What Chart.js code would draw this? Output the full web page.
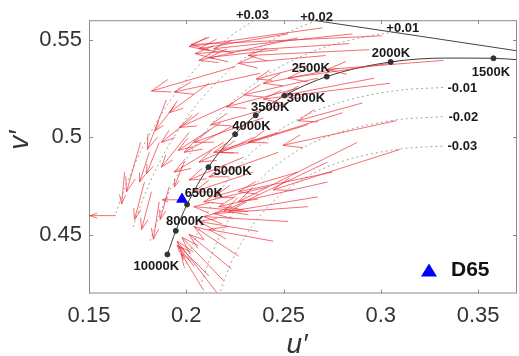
<!DOCTYPE html>
<html>
<head>
<meta charset="utf-8">
<script src="https://cdn.jsdelivr.net/npm/chart.js@4.4.1/dist/chart.umd.min.js"></script>
<style>
  html, body { margin: 0; padding: 0; background: #fff; overflow: hidden; }
  body { width: 519px; height: 356px; }
  canvas { display: block; }
</style>
</head>
<body>
<canvas id="chart" width="524" height="356"></canvas>
<script>
// axis ticks
const xTicks = [0.15, 0.2, 0.25, 0.3, 0.35];
const yTicks = [0.45, 0.5, 0.55];

// Planckian locus (u', v'), 10000K -> 1400K
const locusU = [0.1903, 0.1946, 0.2004, 0.2114, 0.2251, 0.2357, 0.2505, 0.2722, 0.3051, 0.3336, 0.3579, 0.3723];
const locusV = [0.4400, 0.4521, 0.4656, 0.4847, 0.5016, 0.5113, 0.5214, 0.5311, 0.5386, 0.5406, 0.5405, 0.5396];

// labelled CCT points
const cctNames = ["10000K", "8000K", "6500K", "5000K", "4000K", "3500K", "3000K", "2500K", "2000K", "1500K"];
const cctU = [0.1903, 0.1946, 0.2004, 0.2114, 0.2251, 0.2357, 0.2505, 0.2722, 0.3051, 0.3579];
const cctV = [0.4400, 0.4521, 0.4656, 0.4847, 0.5016, 0.5113, 0.5214, 0.5311, 0.5386, 0.5405];
const cctLabelU = [0.1846, 0.1994, 0.2090, 0.2238, 0.2335, 0.2431, 0.2615, 0.2640, 0.3052, 0.3566];
const cctLabelV = [0.4341, 0.4569, 0.4711, 0.4827, 0.5055, 0.5151, 0.5201, 0.5353, 0.5429, 0.5333];

// spectrum locus 575-600 nm
const specU = [0.2312, 0.2623, 0.2960, 0.3315, 0.4035];
const specV = [0.5651, 0.5604, 0.5554, 0.5501, 0.5393];

// Duv lines
const duvP3U = [0.1638, 0.1688, 0.1767, 0.1905, 0.2074, 0.2219, 0.2349];
const duvP3V = [0.4611, 0.4750, 0.4931, 0.5170, 0.5379, 0.5512, 0.5600];
const duvP2U = [0.1726, 0.1774, 0.1846, 0.1975, 0.2133, 0.2265, 0.2437, 0.2664];
const duvP2V = [0.4541, 0.4674, 0.4840, 0.5062, 0.5258, 0.5379, 0.5496, 0.5598];
const duvP1U = [0.1815, 0.1860, 0.1925, 0.2044, 0.2192, 0.2311, 0.2471, 0.2701, 0.3041, 0.3110];
const duvP1V = [0.4470, 0.4597, 0.4748, 0.4955, 0.5137, 0.5246, 0.5355, 0.5458, 0.5535, 0.5540];
const duvM1U = [0.1991, 0.2032, 0.2083, 0.2184, 0.2310, 0.2403, 0.2539, 0.2743, 0.3061, 0.3322];
const duvM1V = [0.4330, 0.4445, 0.4564, 0.4739, 0.4895, 0.4980, 0.5073, 0.5164, 0.5237, 0.5256];
const duvM2U = [0.2080, 0.2118, 0.2162, 0.2253, 0.2369, 0.2449, 0.2573, 0.2763, 0.3071, 0.3322];
const duvM2V = [0.4259, 0.4368, 0.4472, 0.4632, 0.4774, 0.4847, 0.4932, 0.5017, 0.5088, 0.5106];
const duvM3U = [0.2168, 0.2204, 0.2241, 0.2323, 0.2428, 0.2495, 0.2607, 0.2784, 0.3082, 0.3322];
const duvM3V = [0.4189, 0.4292, 0.4380, 0.4524, 0.4653, 0.4714, 0.4791, 0.4871, 0.4938, 0.4956];
const duvNames = ["+0.03", "+0.02", "+0.01", "-0.01", "-0.02", "-0.03"];
const duvLabelU = [0.2340, 0.2670, 0.3113, 0.3419, 0.3424, 0.3419];
const duvLabelV = [0.5625, 0.5616, 0.5556, 0.5252, 0.5100, 0.4953];

// D65 white point
const d65U = 0.1978;
const d65V = 0.4683;

// shift vectors: tail -> head
const arrowTailU = [
  0.3006, 0.2701, 0.2838, 0.2574, 0.2940, 0.2716, 0.2472, 0.2625, 0.2380, 0.2253, 0.3322, 0.3047,
  0.2854, 0.2523, 0.2778, 0.2676,
  0.3047, 0.2966, 0.3078, 0.3098, 0.2879, 0.2726, 0.2803, 0.2905,
  0.2574, 0.2523, 0.2396, 0.2625, 0.2345, 0.2472, 0.2294, 0.2574, 0.2421, 0.2676, 0.2243, 0.2268, 0.2192,
  0.2472, 0.2345,
  0.1943, 0.1897, 0.2116, 0.2177, 0.2065, 0.2014,
  0.1637, 0.1683, 0.1785, 0.1821, 0.1861, 0.1912, 0.1810, 0.1861, 0.1765, 0.1989,
  0.2157, 0.2192, 0.2116, 0.2233, 0.2090, 0.2268, 0.2039,
  0.2726, 0.2625, 0.2523, 0.2370, 0.2752, 0.2319, 0.2447,
  0.1978
];
const arrowTailV = [
  0.5520, 0.5561, 0.5480, 0.5510, 0.5449, 0.5419, 0.5449, 0.5368, 0.5328, 0.5363, 0.5394, 0.5379,
  0.5530, 0.5530, 0.5353, 0.5303,
  0.5277, 0.5303, 0.5085, 0.4938, 0.4974, 0.4873, 0.5126, 0.5176,
  0.5252, 0.5176, 0.5100, 0.5065, 0.4999, 0.4923, 0.4898, 0.4822, 0.4746, 0.4695, 0.5176, 0.5075, 0.4974,
  0.5024, 0.4822,
  0.5166, 0.5191, 0.5277, 0.5075, 0.5126, 0.5024,
  0.4599, 0.4822, 0.4771, 0.4721, 0.4670, 0.4746, 0.4923, 0.4974, 0.4974, 0.4873,
  0.4205, 0.4265, 0.4291, 0.4326, 0.4215, 0.4392, 0.4341,
  0.4771, 0.4645, 0.4569, 0.4518, 0.4822, 0.4620, 0.4468,
  0.4680
];
const arrowHeadU = [
  0.2024, 0.2014, 0.2045, 0.2065, 0.2319, 0.2268, 0.2116, 0.2360, 0.1938, 0.1821, 0.2726, 0.2523,
  0.2141, 0.2065, 0.2396, 0.2294,
  0.2396, 0.2487, 0.2497, 0.2447, 0.2268, 0.2192, 0.2319, 0.2574,
  0.2207, 0.2126, 0.2039, 0.2167, 0.2065, 0.2116, 0.2014, 0.2141, 0.2090, 0.2218, 0.1963, 0.1989, 0.1938,
  0.2141, 0.2039,
  0.1841, 0.1800, 0.1912, 0.1958, 0.1872, 0.1872,
  0.1505, 0.1668, 0.1734, 0.1770, 0.1831, 0.1866, 0.1760, 0.1795, 0.1693, 0.1938,
  0.1953, 0.1978, 0.1963, 0.2014, 0.1973, 0.2039, 0.1953,
  0.2167, 0.2141, 0.2090, 0.2065, 0.2268, 0.2039, 0.2116,
  0.1877
];
const arrowHeadV = [
  0.5475, 0.5465, 0.5429, 0.5394, 0.5419, 0.5379, 0.5409, 0.5298, 0.5232, 0.5237, 0.5348, 0.5303,
  0.5454, 0.5454, 0.5277, 0.5217,
  0.5196, 0.5212, 0.4959, 0.4731, 0.4670, 0.4620, 0.4974, 0.5085,
  0.5156, 0.5065, 0.4974, 0.4923, 0.4873, 0.4797, 0.4781, 0.4695, 0.4670, 0.4620, 0.5050, 0.4923, 0.4822,
  0.4923, 0.4721,
  0.5034, 0.4938, 0.5126, 0.4933, 0.4974, 0.4847,
  0.4599, 0.4660, 0.4579, 0.4528, 0.4478, 0.4579, 0.4771, 0.4812, 0.4721, 0.4746,
  0.4468, 0.4488, 0.4442, 0.4503, 0.4407, 0.4544, 0.4448,
  0.4645, 0.4609, 0.4594, 0.4569, 0.4721, 0.4645, 0.4528,
  0.4680
];

const pts = (us, vs) => us.map((u, i) => ({ x: u, y: vs[i] }));
const FONT = '"Liberation Sans", Arial, Helvetica, sans-serif';

function dottedLine(us, vs) {
  return {
    data: pts(us, vs),
    showLine: true,
    pointRadius: 0,
    borderColor: "#a3a3a3",
    borderWidth: 1,
    borderDash: [2, 3],
    cubicInterpolationMode: "monotone",
  };
}

// red arrows, drawn right after the locus line (under the dots and D65)
const arrowPlugin = {
  id: "arrows",
  afterDatasetDraw(chart, args) {
    if (args.index !== 2) return;
    const { ctx, chartArea: a, scales } = chart;
    ctx.save();
    ctx.beginPath();
    ctx.rect(a.left, a.top, a.right - a.left, a.bottom - a.top);
    ctx.clip();
    ctx.strokeStyle = "rgba(236,48,56,0.82)";
    ctx.lineWidth = 0.85;
    for (let i = 0; i < arrowTailU.length; i++) {
      const x0 = scales.x.getPixelForValue(arrowTailU[i]);
      const y0 = scales.y.getPixelForValue(arrowTailV[i]);
      const x1 = scales.x.getPixelForValue(arrowHeadU[i]);
      const y1 = scales.y.getPixelForValue(arrowHeadV[i]);
      const ang = Math.atan2(y1 - y0, x1 - x0);
      const len = Math.hypot(x1 - x0, y1 - y0);
      const h = Math.min(len * 0.3, 20);
      ctx.beginPath();
      ctx.moveTo(x0, y0);
      ctx.lineTo(x1, y1);
      ctx.moveTo(x1 - h * Math.cos(ang - 0.33), y1 - h * Math.sin(ang - 0.33));
      ctx.lineTo(x1, y1);
      ctx.lineTo(x1 - h * Math.cos(ang + 0.33), y1 - h * Math.sin(ang + 0.33));
      ctx.stroke();
    }
    ctx.restore();
  },
};

// box, inward ticks, text labels, axis titles, legend
const decorPlugin = {
  id: "decor",
  afterDraw(chart) {
    const { ctx, chartArea: a, scales } = chart;
    ctx.save();
    ctx.strokeStyle = "#8c8c8c";
    ctx.lineWidth = 1;
    ctx.strokeRect(a.left + 0.5, a.top + 0.5, a.right - a.left - 1, a.bottom - a.top - 1);
    ctx.beginPath();
    xTicks.forEach((t) => {
      const px = Math.round(scales.x.getPixelForValue(t)) + 0.5;
      ctx.moveTo(px, a.bottom); ctx.lineTo(px, a.bottom - 4);
      ctx.moveTo(px, a.top); ctx.lineTo(px, a.top + 4);
    });
    yTicks.forEach((t) => {
      const py = Math.round(scales.y.getPixelForValue(t)) + 0.5;
      ctx.moveTo(a.left, py); ctx.lineTo(a.left + 4, py);
      ctx.moveTo(a.right, py); ctx.lineTo(a.right - 4, py);
    });
    ctx.stroke();

    ctx.fillStyle = "#1a1a1a";
    ctx.font = "bold 13px " + FONT;
    ctx.textAlign = "center";
    ctx.textBaseline = "middle";
    cctNames.forEach((s, i) => {
      ctx.fillText(s, scales.x.getPixelForValue(cctLabelU[i]), scales.y.getPixelForValue(cctLabelV[i]));
    });
    duvNames.forEach((s, i) => {
      ctx.fillText(s, scales.x.getPixelForValue(duvLabelU[i]), scales.y.getPixelForValue(duvLabelV[i]));
    });

    // legend
    const lx = a.right - 88, ly = a.bottom - 23;
    ctx.fillStyle = "#0000ff";
    ctx.beginPath();
    ctx.moveTo(lx, ly - 7);
    ctx.lineTo(lx + 8, ly + 6);
    ctx.lineTo(lx - 8, ly + 6);
    ctx.closePath();
    ctx.fill();
    ctx.fillStyle = "#111";
    ctx.font = "bold 21px " + FONT;
    ctx.textAlign = "left";
    ctx.fillText("D65", lx + 22, ly);

    // axis titles
    ctx.fillStyle = "#333";
    ctx.font = "italic 28px " + FONT;
    ctx.textAlign = "center";
    ctx.fillText("u\u2032", (a.left + a.right) / 2 - 6, 345);
    ctx.translate(20, 140);
    ctx.rotate(-Math.PI / 2);
    ctx.fillText("v\u2032", 0, 0);
    ctx.restore();
  },
};

new Chart(document.getElementById("chart"), {
  type: "scatter",
  data: {
    datasets: [
      {
        data: [{ x: d65U, y: d65V }],
        pointStyle: "triangle",
        pointRadius: 6,
        backgroundColor: "#0000ff",
        borderColor: "#0000ff",
      },
      {
        data: pts(cctU, cctV),
        pointRadius: 2.5,
        backgroundColor: "#333",
        borderColor: "#333",
      },
      {
        data: pts(locusU, locusV),
        showLine: true,
        pointRadius: 0,
        borderColor: "#3a3a3a",
        borderWidth: 1,
        cubicInterpolationMode: "monotone",
      },
      {
        data: pts(specU, specV),
        showLine: true,
        pointRadius: 0,
        borderColor: "#444",
        borderWidth: 1,
      },
      dottedLine(duvP3U, duvP3V),
      dottedLine(duvP2U, duvP2V),
      dottedLine(duvP1U, duvP1V),
      dottedLine(duvM1U, duvM1V),
      dottedLine(duvM2U, duvM2V),
      dottedLine(duvM3U, duvM3V),
    ],
  },
  options: {
    responsive: false,
    devicePixelRatio: 1,
    animation: false,
    layout: { padding: { top: 16, right: 3, left: 0, bottom: 0 } },
    plugins: { legend: { display: false }, tooltip: { enabled: false } },
    scales: {
      x: {
        type: "linear",
        min: 0.15,
        max: 0.37,
        afterBuildTicks: (s) => { s.ticks = xTicks.map((v) => ({ value: v })); },
        afterFit: (s) => { s.height = 62.5; },
        grid: { display: false, drawTicks: false },
        border: { display: false },
        ticks: {
          padding: 9,
          color: "#333",
          font: { family: FONT, size: 22 },
          callback: (v) => String(v),
        },
      },
      y: {
        type: "linear",
        min: 0.42,
        max: 0.56,
        afterBuildTicks: (s) => { s.ticks = yTicks.map((v) => ({ value: v })); },
        afterFit: (s) => { s.width = 89; },
        grid: { display: false, drawTicks: false },
        border: { display: false },
        ticks: {
          padding: 7,
          color: "#333",
          font: { family: FONT, size: 22 },
          callback: (v) => String(v),
        },
      },
    },
  },
  plugins: [arrowPlugin, decorPlugin],
});
</script>
</body>
</html>
